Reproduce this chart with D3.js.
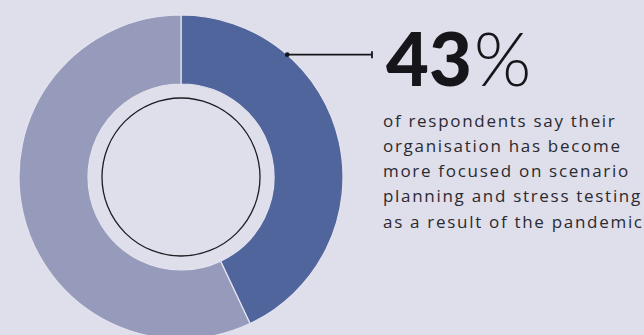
<!DOCTYPE html>
<html>
<head>
<meta charset="utf-8">
<script src="https://cdn.jsdelivr.net/npm/d3@7"></script>
<style>
  html, body { margin: 0; padding: 0; background: #dfdeeb; }
  svg { display: block; }
</style>
</head>
<body>
<svg id="chart" width="644" height="335"></svg>
<script>
// Survey share shown in the donut
const categories = ["More focused", "Other"];
const values = [43, 57];
const sliceColors = ["#4f659b", "#979bbb"];
const headline = "43";
const descriptionLines = [
  "of respondents say their",
  "organisation has become",
  "more focused on scenario",
  "planning and stress testing",
  "as a result of the pandemic"
];

const svg = d3.select("#chart");
const W = 644, H = 335;
svg.append("rect").attr("width", W).attr("height", H).attr("fill", "#dfdeeb");

const cx = 181, cy = 177;
const outerR = 162, innerR = 93, ringR = 79;

const pie = d3.pie().sort(null).value(d => d.value);
const arc = d3.arc().innerRadius(innerR).outerRadius(outerR);
const data = pie(categories.map((c, i) => ({ name: c, value: values[i] })));

const g = svg.append("g").attr("transform", `translate(${cx},${cy})`);
g.selectAll("path.slice")
  .data(data)
  .join("path")
  .attr("class", "slice")
  .attr("d", arc)
  .attr("fill", (d, i) => sliceColors[i])
  .attr("stroke", "#e4e3ef")
  .attr("stroke-width", 1.2);

// thin outline inside the hole
g.append("circle")
  .attr("r", ringR)
  .attr("fill", "none")
  .attr("stroke", "#1e1e22")
  .attr("stroke-width", 1.3);

// leader from the highlighted slice to the headline figure
const leaderY = 54.7;
const leaderX0 = Math.sqrt(outerR * outerR - (cy - leaderY) ** 2);
const leader = svg.append("g").attr("stroke", "#16161a").attr("stroke-width", 1.8);
leader.append("line")
  .attr("x1", cx + leaderX0).attr("x2", 372)
  .attr("y1", leaderY).attr("y2", leaderY);
leader.append("line")
  .attr("x1", 372).attr("x2", 372)
  .attr("y1", leaderY - 3.5).attr("y2", leaderY + 3.5);
svg.append("circle")
  .attr("cx", cx + leaderX0).attr("cy", leaderY).attr("r", 2.4)
  .attr("fill", "#16161a");

// headline figure
const big = svg.append("text")
  .attr("x", 386).attr("y", 86)
  .attr("font-family", "Lato, 'Open Sans', sans-serif")
  .attr("font-size", 74)
  .attr("fill", "#16161a");
big.append("tspan").attr("font-weight", 900).text(headline);
big.append("tspan").attr("font-weight", 300).attr("dx", 2).text("%");

// description
svg.append("g")
  .attr("font-family", "'Open Sans', sans-serif")
  .attr("font-size", 17)
  .attr("fill", "#2a2a30")
  .selectAll("text")
  .data(descriptionLines)
  .join("text")
  .attr("x", 383)
  .attr("y", (d, i) => 126.7 + i * 25.25)
  .attr("letter-spacing", 1.7)
  .text(d => d);
</script>
</body>
</html>
